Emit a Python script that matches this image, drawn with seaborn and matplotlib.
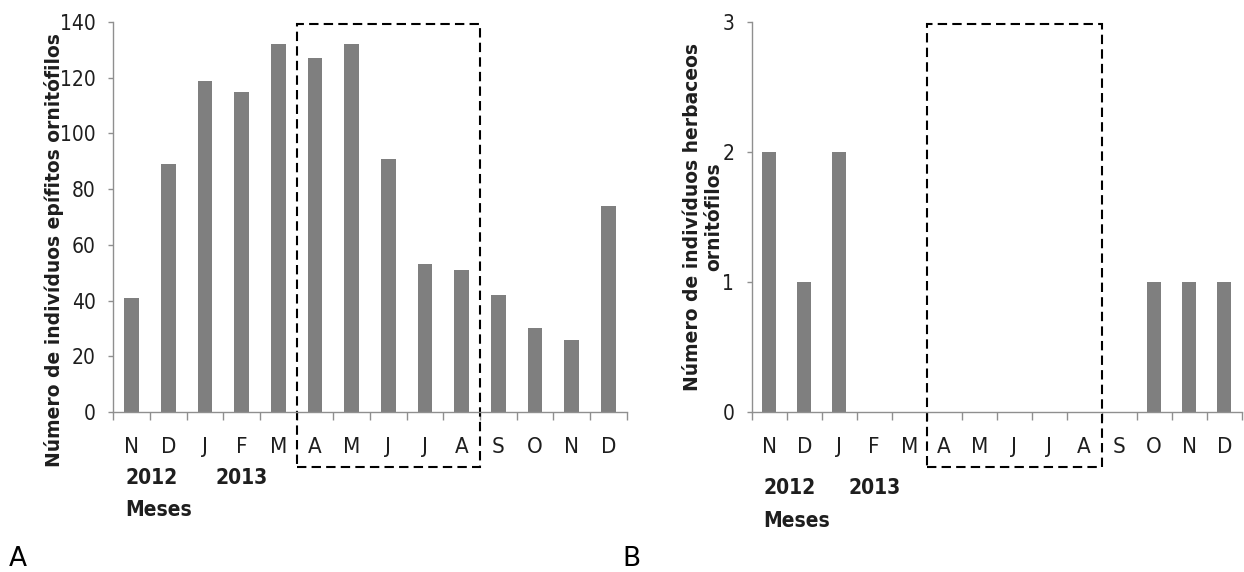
import matplotlib
matplotlib.use("Agg")
import matplotlib.pyplot as plt
import matplotlib.transforms as mtransforms
from matplotlib.patches import Rectangle
import numpy as np
import pandas as pd
import seaborn as sns

# Monthly counts, Nov 2012 - Dec 2013
months = ["N", "D", "J", "F", "M", "A", "M", "J", "J", "A", "S", "O", "N", "D"]
epifitos = [41, 89, 119, 115, 132, 127, 132, 91, 53, 51, 42, 30, 26, 74]
herbaceos = [2, 1, 2, 0, 0, 0, 0, 0, 0, 0, 0, 1, 1, 1]
year_labels = ["2012", "2013"]
year_positions = [0, 3]
axis_title = "Meses"
ylabel_a = "Número de indivíduos epífitos ornitófilos"
ylabel_b = "Número de indivíduos herbaceos\nornitófilos"
highlight = (5, 9)  # April-August 2013 window (indices)

sns.set_theme(style="white")
plt.rcParams["font.family"] = ["DejaVu Sans"]

NARROW = dict(family=["DejaVu Sans"], fontstretch="condensed")
WIDE = dict(family=["DejaVu Sans"], fontstretch="normal")

BAR = "#7f7f7f"
AXC = "#8f8f8f"
TXT = "#1e1e1e"

fig = plt.figure(figsize=(12.44, 5.72), dpi=100)
ax_a = fig.add_axes([113.3 / 1244, 1 - 412 / 572, 513.4 / 1244, 390 / 572])
ax_b = fig.add_axes([751.7 / 1244, 1 - 412 / 572, 490 / 1244, 390 / 572])


def draw(ax, values, ymax, step, ylabel, ylabel_x, ylabel_y, year_y):
    df = pd.DataFrame({"idx": np.arange(len(values)), "n": values})
    sns.barplot(data=df, x="idx", y="n", color=BAR, saturation=1,
                width=0.4, linewidth=0, ax=ax)
    ax.set_xlim(-0.5, len(values) - 0.5)
    ax.set_ylim(0, ymax)
    yt = np.arange(0, ymax + step / 2, step)
    ax.set_yticks(yt)
    ax.set_yticklabels([f"{v:g}" for v in yt], fontsize=15, color=TXT, **NARROW)
    ax.set_xticks(np.arange(len(values)))
    ax.set_xticklabels(months, fontsize=16, color=TXT, **NARROW)
    ax.set_xticks(np.arange(len(values) + 1) - 0.5, minor=True)
    ax.tick_params(axis="x", which="major", length=0, pad=18)
    ax.tick_params(axis="x", which="minor", length=6, width=1, color=AXC,
                   direction="out", bottom=True)
    ax.tick_params(axis="y", which="major", length=3.5, width=1, color=AXC,
                   direction="out", left=True, pad=9)
    for side in ("top", "right"):
        ax.spines[side].set_visible(False)
    for side in ("left", "bottom"):
        ax.spines[side].set_color(AXC)
        ax.spines[side].set_linewidth(1)
    ax.set_xlabel("")
    ax.set_ylabel("")
    ax.text(ylabel_x, ylabel_y, ylabel,
            transform=ax.transAxes, rotation=90, ha="center", va="center",
            fontsize=13.5, fontweight="bold", color=TXT, linespacing=1.15,
            **WIDE)

    trans = mtransforms.blended_transform_factory(ax.transData, ax.transAxes)
    for lab, pos, ha in zip(year_labels, year_positions, ["left", "center"]):
        x = pos - 0.17 if ha == "left" else pos
        ax.text(x, year_y, lab, transform=trans, ha=ha, va="center",
                fontsize=15, fontweight="bold", color=TXT, **NARROW)
    ax.text(-0.17, year_y - 0.084, axis_title, transform=trans, ha="left",
            va="center", fontsize=15, fontweight="bold", color=TXT, **NARROW)

    x0, x1 = highlight
    rect = Rectangle((x0 - 0.5, -0.14), (x1 - x0) + 1, 0.994 + 0.14,
                     transform=trans, fill=False, edgecolor="black",
                     linewidth=1.5, linestyle=(0, (4.5, 2.5)), clip_on=False)
    ax.add_patch(rect)


draw(ax_a, epifitos, 140, 20, ylabel_a, -0.116, 0.415, -0.168)
draw(ax_b, herbaceos, 3, 1, ylabel_b, -0.099, 0.50, -0.195)

fig.text(9 / 1244, 1 - 566 / 572, "A", fontsize=19, color="black",
         va="baseline", **WIDE)
fig.text(622 / 1244, 1 - 566 / 572, "B", fontsize=19, color="black",
         va="baseline", **WIDE)

fig.savefig("out.png", dpi=100)
